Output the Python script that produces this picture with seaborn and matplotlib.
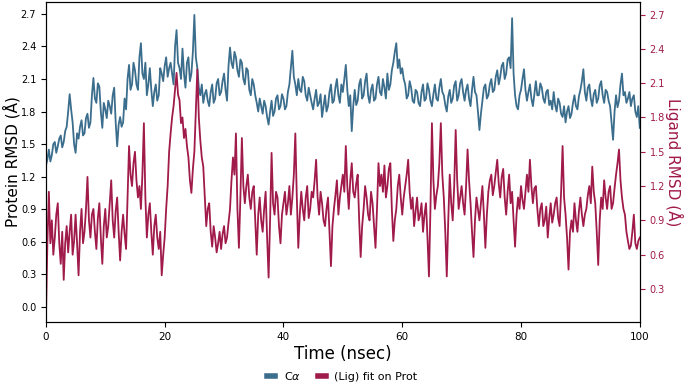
import numpy as np
import pandas as pd
import matplotlib
matplotlib.use("Agg")
import matplotlib.pyplot as plt
import seaborn as sns

# time axis, one value every 0.25 ns
time_ns = np.arange(0, 100.25, 0.25)

# C-alpha RMSD (left axis), 20 values per 5 ns
ca_rmsd = [
    1.30, 1.36, 1.45, 1.34, 1.40, 1.50, 1.52, 1.42, 1.48, 1.55, 1.58, 1.47, 1.52, 1.62, 1.66, 1.80, 1.96, 1.82, 1.70, 1.50,
    1.42, 1.60, 1.55, 1.66, 1.72, 1.58, 1.60, 1.74, 1.78, 1.65, 1.70, 1.95, 2.11, 1.92, 1.88, 2.06, 2.03, 1.80, 1.65, 1.88,
    1.82, 1.74, 1.90, 1.85, 1.78, 1.95, 2.02, 1.70, 1.48, 1.68, 1.75, 1.66, 1.70, 1.92, 1.82, 2.10, 2.23, 2.00, 2.05, 2.25,
    2.18, 2.05, 2.00, 2.30, 2.43, 2.15, 2.10, 2.25, 1.95, 2.05, 2.20, 2.00, 1.85, 1.98, 2.05, 1.90, 1.95, 2.20, 2.15, 2.08,
    2.22, 2.30, 2.12, 2.20, 2.25, 2.15, 2.05, 2.40, 2.55, 2.25, 2.20, 2.10, 2.38, 2.15, 2.02, 2.25, 2.30, 2.08, 2.15, 2.35,
    2.69, 2.30, 2.20, 2.02, 1.95, 2.05, 1.88, 1.96, 2.00, 1.90, 1.85, 1.98, 2.05, 1.88, 1.92, 2.06, 2.10, 1.95, 1.98, 2.08,
    2.15, 2.00, 1.90, 2.22, 2.39, 2.25, 2.20, 2.35, 2.30, 2.18, 2.12, 2.28, 2.25, 2.10, 2.05, 2.20, 2.18, 2.00, 1.95, 2.10,
    2.05, 1.95, 1.88, 1.80, 1.92, 1.85, 1.78, 1.90, 1.85, 1.75, 1.68, 1.80, 1.90, 1.76, 1.80, 1.92, 1.95, 1.82, 1.85, 1.96,
    1.92, 1.82, 1.85, 1.98, 2.05, 2.20, 2.36, 2.12, 2.05, 1.95, 2.10, 2.00, 1.98, 2.12, 2.08, 1.95, 1.90, 2.02, 1.95, 1.88,
    1.82, 1.92, 2.00, 1.85, 1.88, 1.96, 1.75, 1.85, 1.95, 1.80, 1.85, 1.98, 2.05, 1.88, 1.90, 2.02, 2.10, 1.95, 1.88, 2.05,
    1.98, 2.10, 2.23, 2.00, 1.85, 1.95, 1.62, 1.85, 2.00, 1.86, 1.90, 2.05, 2.10, 1.92, 1.95, 2.08, 2.15, 1.95, 1.88, 2.00,
    2.05, 1.90, 1.92, 2.05, 2.12, 1.98, 1.95, 2.10, 2.02, 1.92, 2.15, 2.00, 2.05, 2.18, 2.25, 2.35, 2.43, 2.20, 2.28, 2.15,
    2.20, 2.10, 2.05, 1.92, 1.95, 2.08, 2.02, 1.90, 1.88, 2.00, 1.98, 1.88, 1.85, 1.98, 2.05, 1.90, 1.92, 2.06, 2.00, 1.90,
    1.85, 1.96, 2.05, 1.92, 1.90, 2.02, 2.10, 1.98, 1.95, 1.86, 1.80, 1.94, 2.00, 1.88, 1.92, 2.04, 2.08, 1.90, 1.95, 2.06,
    2.10, 1.98, 1.90, 2.00, 2.05, 1.92, 1.85, 2.00, 2.12, 1.98, 1.95, 1.80, 1.63, 1.78, 1.90, 2.02, 2.05, 1.92, 1.95, 2.05,
    2.10, 1.98, 2.00, 2.12, 2.18, 2.05, 2.12, 2.22, 2.25, 2.10, 2.15, 2.28, 2.30, 2.20, 2.66, 2.15, 1.95, 1.85, 1.82, 1.95,
    2.00, 2.10, 2.19, 2.00, 1.90, 1.98, 2.05, 1.92, 1.85, 1.96, 2.08, 1.95, 1.95, 2.06, 2.02, 1.92, 1.88, 1.98, 2.00, 1.86,
    1.90, 1.82, 1.98, 1.86, 1.80, 1.92, 1.88, 1.78, 1.75, 1.85, 1.70, 1.80, 1.85, 1.74, 1.78, 1.88, 1.95, 1.85, 1.82, 1.94,
    2.00, 2.08, 2.19, 1.98, 1.90, 2.02, 2.05, 1.92, 1.85, 1.96, 2.00, 1.88, 1.92, 2.04, 2.08, 1.95, 1.88, 2.00, 1.98, 1.90,
    1.85, 1.70, 1.54, 1.80, 1.95, 1.84, 1.90, 2.05, 2.15, 1.95, 1.98, 1.88, 1.92, 1.98, 1.85, 1.92, 1.95, 1.80, 1.75, 1.85,
    1.65,
]

# ligand RMSD, fit on protein (right axis)
lig_rmsd = [
    0.03, 0.70, 1.15, 0.70, 0.90, 0.60, 0.75, 0.95, 1.05, 0.70, 0.52, 0.80, 0.38, 0.70, 0.85, 0.62, 0.80, 0.95, 0.60, 0.72,
    0.95, 0.70, 0.42, 0.80, 1.00, 0.70, 0.80, 1.00, 1.28, 0.90, 0.75, 0.95, 1.00, 0.80, 0.65, 0.92, 1.05, 0.75, 0.52, 0.85,
    1.00, 0.75, 0.85, 1.05, 1.25, 0.90, 0.75, 0.98, 1.10, 0.80, 0.55, 0.80, 0.95, 0.78, 0.65, 1.10, 1.55, 1.30, 1.20, 1.40,
    1.50, 1.25, 1.10, 1.20, 1.00, 1.30, 1.75, 1.10, 0.75, 0.95, 1.05, 0.80, 0.60, 0.85, 0.95, 0.75, 0.65, 0.80, 0.42, 0.60,
    0.75, 1.00, 1.20, 1.50, 1.66, 1.80, 1.90, 2.05, 2.19, 2.00, 1.95, 1.75, 1.80, 1.62, 1.70, 1.55, 1.45, 1.25, 1.14, 1.35,
    1.50, 1.85, 2.22, 1.80, 1.60, 1.45, 1.37, 1.10, 0.85, 1.00, 1.05, 0.80, 0.67, 0.85, 0.75, 0.62, 0.70, 0.80, 0.65, 0.78,
    0.85, 0.70, 0.75, 0.88, 1.00, 1.25, 1.45, 1.30, 1.66, 1.00, 0.66, 1.10, 1.62, 1.20, 1.05, 1.20, 1.30, 1.10, 1.00, 1.15,
    1.20, 0.90, 0.60, 0.95, 1.10, 0.90, 0.80, 1.00, 1.15, 0.75, 0.40, 0.90, 1.49, 1.05, 0.95, 1.15, 1.10, 0.85, 0.70, 0.95,
    1.05, 1.15, 0.95, 1.05, 1.20, 0.95, 1.10, 1.30, 1.66, 1.10, 0.66, 0.95, 1.15, 1.00, 0.90, 1.10, 1.20, 0.92, 1.00, 1.15,
    1.10, 1.25, 1.43, 1.10, 0.95, 1.15, 1.05, 0.90, 0.85, 1.00, 1.10, 0.80, 0.50, 0.85, 1.00, 1.12, 1.25, 0.95, 1.10, 1.20,
    1.30, 1.15, 1.55, 1.20, 1.00, 1.25, 1.40, 1.15, 1.10, 1.22, 1.30, 0.90, 0.58, 0.85, 1.00, 1.20, 1.10, 0.95, 0.90, 1.15,
    1.05, 0.85, 0.66, 1.00, 1.40, 1.20, 1.30, 1.15, 1.38, 1.10, 1.20, 1.35, 1.40, 1.00, 0.72, 0.90, 1.00, 1.20, 1.30, 1.10,
    0.95, 1.10, 1.20, 1.30, 1.43, 1.15, 1.00, 1.10, 0.85, 0.98, 1.10, 0.90, 0.95, 1.05, 0.80, 0.95, 1.05, 0.75, 0.41, 1.00,
    1.75, 1.25, 1.00, 1.12, 1.20, 1.40, 1.75, 1.30, 1.10, 0.80, 0.41, 0.90, 1.30, 1.05, 0.90, 1.20, 1.69, 1.25, 1.00, 1.10,
    1.20, 1.05, 0.95, 1.20, 1.52, 1.25, 1.05, 0.80, 0.58, 0.90, 1.10, 1.00, 0.90, 1.05, 1.20, 0.95, 0.66, 0.95, 1.15, 1.25,
    1.30, 1.12, 1.20, 1.32, 1.43, 1.22, 1.10, 1.28, 1.35, 1.10, 0.95, 1.15, 1.30, 1.05, 1.15, 0.90, 0.67, 0.95, 1.10, 1.00,
    1.20, 1.08, 1.00, 1.15, 1.30, 1.15, 1.43, 1.20, 1.05, 1.18, 1.20, 1.00, 0.85, 1.00, 1.05, 0.85, 0.90, 1.02, 0.75, 0.92,
    1.05, 0.88, 0.95, 1.05, 1.10, 0.92, 0.85, 1.15, 1.55, 1.10, 0.95, 0.75, 0.47, 0.80, 0.90, 0.80, 1.05, 0.90, 0.80, 0.98,
    1.10, 0.95, 0.85, 0.95, 1.00, 1.12, 1.20, 1.05, 1.37, 1.15, 1.05, 0.80, 0.51, 0.90, 1.10, 1.00, 1.25, 1.10, 1.00, 1.15,
    1.20, 1.00, 1.05, 1.18, 1.30, 1.40, 1.52, 1.25, 1.10, 1.00, 0.95, 0.80, 0.72, 0.65, 0.68, 0.80, 0.95, 0.70, 0.65, 0.72,
    0.75,
]

left_ticks = [0.0, 0.3, 0.6, 0.9, 1.2, 1.5, 1.8, 2.1, 2.4, 2.7]
right_ticks = [0.3, 0.6, 0.9, 1.2, 1.5, 1.8, 2.1, 2.4, 2.7]

blue = "#3b6d8c"
red = "#a01a4a"

df = pd.DataFrame({"time": time_ns, "ca": ca_rmsd, "lig": lig_rmsd})

fig = plt.figure(figsize=(6.85, 3.84), dpi=100)
ax = fig.add_axes([0.067, 0.161, 0.867, 0.834])
ax2 = ax.twinx()

sns.lineplot(data=df, x="time", y="ca", ax=ax, color=blue, lw=1.3, label=r"C$\alpha$", legend=False)
sns.lineplot(data=df, x="time", y="lig", ax=ax2, color=red, lw=1.3, label="(Lig) fit on Prot", legend=False)

ax.set_xlim(0, 100)
ax.set_ylim(-0.14, 2.81)
ax2.set_ylim(0.01, 2.81)
ax.set_xticks([0, 20, 40, 60, 80, 100])
ax.set_yticks(left_ticks)
ax2.set_yticks(right_ticks)
ax.set_yticklabels([f"{v:.1f}" for v in left_ticks])
ax2.set_yticklabels([f"{v:.1f}" for v in right_ticks])
ax.tick_params(labelsize=7)
ax.tick_params(axis="x", labelsize=7.5)
ax2.tick_params(labelsize=7, colors=red)
ax2.spines["right"].set_color("black")

ax.set_xlabel("Time (nsec)", fontsize=12, labelpad=2)
ax.set_ylabel("Protein RMSD (Å)", fontsize=11)
ax.yaxis.set_label_coords(-0.042, 0.5)
ax2.set_ylabel("Ligand RMSD (Å)", fontsize=11, color=red,
               rotation=270, va="bottom")
ax2.yaxis.set_label_coords(1.043, 0.5)

h1, l1 = ax.get_legend_handles_labels()
h2, l2 = ax2.get_legend_handles_labels()
leg = fig.legend(h1 + h2, l1 + l2, loc="center", bbox_to_anchor=(0.5, 0.02),
                 ncol=2, frameon=False, fontsize=8, handlelength=0.7, columnspacing=1.5)
for line in leg.get_lines():
    line.set_linewidth(4)

fig.savefig("out.png", dpi=100)
